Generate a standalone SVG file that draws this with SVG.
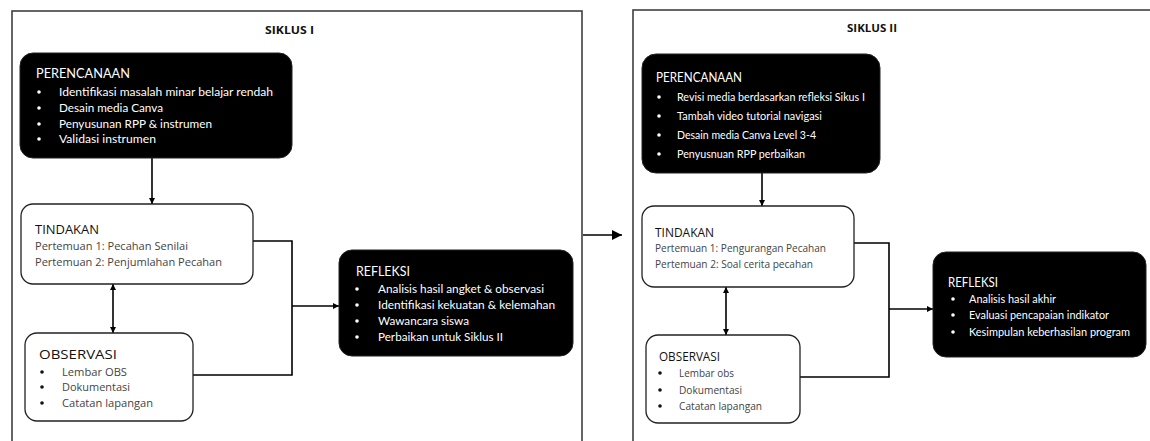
<svg xmlns="http://www.w3.org/2000/svg" width="1150" height="441" viewBox="0 0 1150 441">
<defs>
<marker id="ah" viewBox="0 0 10 10" refX="10" refY="5" markerWidth="6" markerHeight="6" markerUnits="userSpaceOnUse" orient="auto-start-reverse"><path d="M0,0 L10,5 L0,10 z" fill="#000"/></marker>
<marker id="big" viewBox="0 0 10 10" refX="10" refY="5" markerWidth="10" markerHeight="10" markerUnits="userSpaceOnUse" orient="auto"><path d="M0,0 L10,5 L0,10 z" fill="#000"/></marker>
</defs>
<style>
.frame{fill:none;stroke:#333;stroke-width:1.5}
.blk{fill:#000;stroke:#222;stroke-width:1}
.wht{fill:#fff;stroke:#222;stroke-width:1.3}
.bt{font-family:Lato,"Liberation Sans",sans-serif;fill:#fff;font-size:11px}
.btt{font-family:Lato,"Liberation Sans",sans-serif;fill:#fff;font-size:12.5px}
.wt{font-family:"Open Sans","Liberation Sans",sans-serif;fill:#444;font-size:11px}
.wtt{font-family:"Open Sans","Liberation Sans",sans-serif;fill:#111;font-size:13px}
.lbl{font-family:"Open Sans","Liberation Sans",sans-serif;fill:#111;font-size:11px;font-weight:bold}
.cn{fill:none;stroke:#000;stroke-width:1.6}
.bw{fill:#fff}
.bk{fill:#111}
</style>
<rect width="1150" height="441" fill="#fff"/>
<g id="frames">
<path class="frame" d="M12,445 V11 H582 V445"/>
<path class="frame" d="M633,445 V10 H1160"/>
<text class="lbl" x="265" y="34" textLength="49" lengthAdjust="spacingAndGlyphs">SIKLUS I</text>
<text class="lbl" x="847" y="32" textLength="50" lengthAdjust="spacingAndGlyphs">SIKLUS II</text>
</g>
<g id="connectors">
<line class="cn" x1="152" y1="158" x2="152" y2="204" marker-end="url(#ah)"/>
<line class="cn" x1="113" y1="284" x2="113" y2="333" marker-start="url(#ah)" marker-end="url(#ah)"/>
<path class="cn" d="M253,241 H292 V375 H193"/>
<line class="cn" x1="292" y1="306" x2="339" y2="306" marker-end="url(#ah)"/>
<line class="cn" x1="583" y1="235" x2="622" y2="235" stroke-width="2.2" marker-end="url(#big)"/>
<line class="cn" x1="762" y1="173" x2="762" y2="206" marker-end="url(#ah)"/>
<line class="cn" x1="726" y1="287" x2="726" y2="335" marker-start="url(#ah)" marker-end="url(#ah)"/>
<path class="cn" d="M854,243 H889 V377 H800"/>
<line class="cn" x1="889" y1="309" x2="933" y2="309" marker-end="url(#ah)"/>
</g>
<g id="perencanaan1">
<rect class="blk" x="20" y="53" width="272" height="105" rx="13"/>
<text class="btt" x="36" y="77.5" textLength="94" lengthAdjust="spacingAndGlyphs">PERENCANAAN</text>
<circle class="bw" cx="39" cy="92" r="1.8"/><text class="bt" x="59" y="96" textLength="214" lengthAdjust="spacingAndGlyphs">Identifikasi masalah minar belajar rendah</text>
<circle class="bw" cx="39" cy="108" r="1.8"/><text class="bt" x="59" y="112" textLength="104" lengthAdjust="spacingAndGlyphs">Desain media Canva</text>
<circle class="bw" cx="39" cy="124" r="1.8"/><text class="bt" x="59" y="128" textLength="153" lengthAdjust="spacingAndGlyphs">Penyusunan RPP &amp; instrumen</text>
<circle class="bw" cx="39" cy="139" r="1.8"/><text class="bt" x="59" y="143" textLength="97" lengthAdjust="spacingAndGlyphs">Validasi instrumen</text>
</g>
<g id="tindakan1">
<rect class="wht" x="21" y="204" width="232" height="80" rx="12"/>
<text class="wtt" x="35" y="233.5" textLength="64" lengthAdjust="spacingAndGlyphs">TINDAKAN</text>
<text class="wt" x="35" y="250" textLength="153" lengthAdjust="spacingAndGlyphs">Pertemuan 1: Pecahan Senilai</text>
<text class="wt" x="35" y="266" textLength="187" lengthAdjust="spacingAndGlyphs">Pertemuan 2: Penjumlahan Pecahan</text>
</g>
<g id="observasi1">
<rect class="wht" x="25" y="333" width="168" height="88" rx="12"/>
<text class="wtt" x="39" y="358.5" textLength="78" lengthAdjust="spacingAndGlyphs">OBSERVASI</text>
<circle class="bk" cx="42" cy="372" r="1.8"/><text class="wt" x="62" y="376" textLength="65" lengthAdjust="spacingAndGlyphs">Lembar OBS</text>
<circle class="bk" cx="42" cy="387" r="1.8"/><text class="wt" x="62" y="391" textLength="68" lengthAdjust="spacingAndGlyphs">Dokumentasi</text>
<circle class="bk" cx="42" cy="403" r="1.8"/><text class="wt" x="62" y="407" textLength="91" lengthAdjust="spacingAndGlyphs">Catatan lapangan</text>
</g>
<g id="refleksi1">
<rect class="blk" x="339" y="250" width="234" height="106" rx="13"/>
<text class="btt" x="356" y="275.5" textLength="54" lengthAdjust="spacingAndGlyphs">REFLEKSI</text>
<circle class="bw" cx="357" cy="289" r="1.8"/><text class="bt" x="378" y="293" textLength="166" lengthAdjust="spacingAndGlyphs">Analisis hasil angket &amp; observasi</text>
<circle class="bw" cx="357" cy="305" r="1.8"/><text class="bt" x="378" y="309" textLength="177" lengthAdjust="spacingAndGlyphs">Identifikasi kekuatan &amp; kelemahan</text>
<circle class="bw" cx="357" cy="321" r="1.8"/><text class="bt" x="378" y="325" textLength="91" lengthAdjust="spacingAndGlyphs">Wawancara siswa</text>
<circle class="bw" cx="357" cy="337" r="1.8"/><text class="bt" x="378" y="341" textLength="125" lengthAdjust="spacingAndGlyphs">Perbaikan untuk Siklus II</text>
</g>
<g id="perencanaan2">
<rect class="blk" x="642" y="54" width="238" height="119" rx="14"/>
<text class="btt" x="656" y="81.5" textLength="86" lengthAdjust="spacingAndGlyphs">PERENCANAAN</text>
<circle class="bw" cx="659" cy="97" r="1.8"/><text class="bt" x="677" y="101" textLength="188" lengthAdjust="spacingAndGlyphs">Revisi media berdasarkan refleksi Sikus I</text>
<circle class="bw" cx="659" cy="116" r="1.8"/><text class="bt" x="677" y="120" textLength="145" lengthAdjust="spacingAndGlyphs">Tambah video tutorial navigasi</text>
<circle class="bw" cx="659" cy="135" r="1.8"/><text class="bt" x="677" y="139" textLength="139" lengthAdjust="spacingAndGlyphs">Desain media Canva Level 3-4</text>
<circle class="bw" cx="659" cy="154" r="1.8"/><text class="bt" x="677" y="158" textLength="128" lengthAdjust="spacingAndGlyphs">Penyusnuan RPP perbaikan</text>
</g>
<g id="tindakan2">
<rect class="wht" x="642" y="206" width="212" height="81" rx="12"/>
<text class="wtt" x="655" y="236.5" textLength="59" lengthAdjust="spacingAndGlyphs">TINDAKAN</text>
<text class="wt" x="655" y="252" textLength="171" lengthAdjust="spacingAndGlyphs">Pertemuan 1: Pengurangan Pecahan</text>
<text class="wt" x="655" y="268" textLength="158" lengthAdjust="spacingAndGlyphs">Pertemuan 2: Soal cerita pecahan</text>
</g>
<g id="observasi2">
<rect class="wht" x="646" y="335" width="154" height="88" rx="12"/>
<text class="wtt" x="659" y="360.5" textLength="61" lengthAdjust="spacingAndGlyphs">OBSERVASI</text>
<circle class="bk" cx="660" cy="373" r="1.8"/><text class="wt" x="679" y="377" textLength="55" lengthAdjust="spacingAndGlyphs">Lembar obs</text>
<circle class="bk" cx="660" cy="390" r="1.8"/><text class="wt" x="679" y="394" textLength="63" lengthAdjust="spacingAndGlyphs">Dokumentasi</text>
<circle class="bk" cx="660" cy="406" r="1.8"/><text class="wt" x="679" y="410" textLength="83" lengthAdjust="spacingAndGlyphs">Catatan lapangan</text>
</g>
<g id="refleksi2">
<rect class="blk" x="933" y="252" width="213" height="105" rx="13"/>
<text class="btt" x="948" y="286.5" textLength="50" lengthAdjust="spacingAndGlyphs">REFLEKSI</text>
<circle class="bw" cx="953" cy="299" r="1.8"/><text class="bt" x="969" y="303" textLength="87" lengthAdjust="spacingAndGlyphs">Analisis hasil akhir</text>
<circle class="bw" cx="953" cy="315" r="1.8"/><text class="bt" x="969" y="319" textLength="140" lengthAdjust="spacingAndGlyphs">Evaluasi pencapaian indikator</text>
<circle class="bw" cx="953" cy="332" r="1.8"/><text class="bt" x="969" y="336" textLength="161" lengthAdjust="spacingAndGlyphs">Kesimpulan keberhasilan program</text>
</g>
</svg>
